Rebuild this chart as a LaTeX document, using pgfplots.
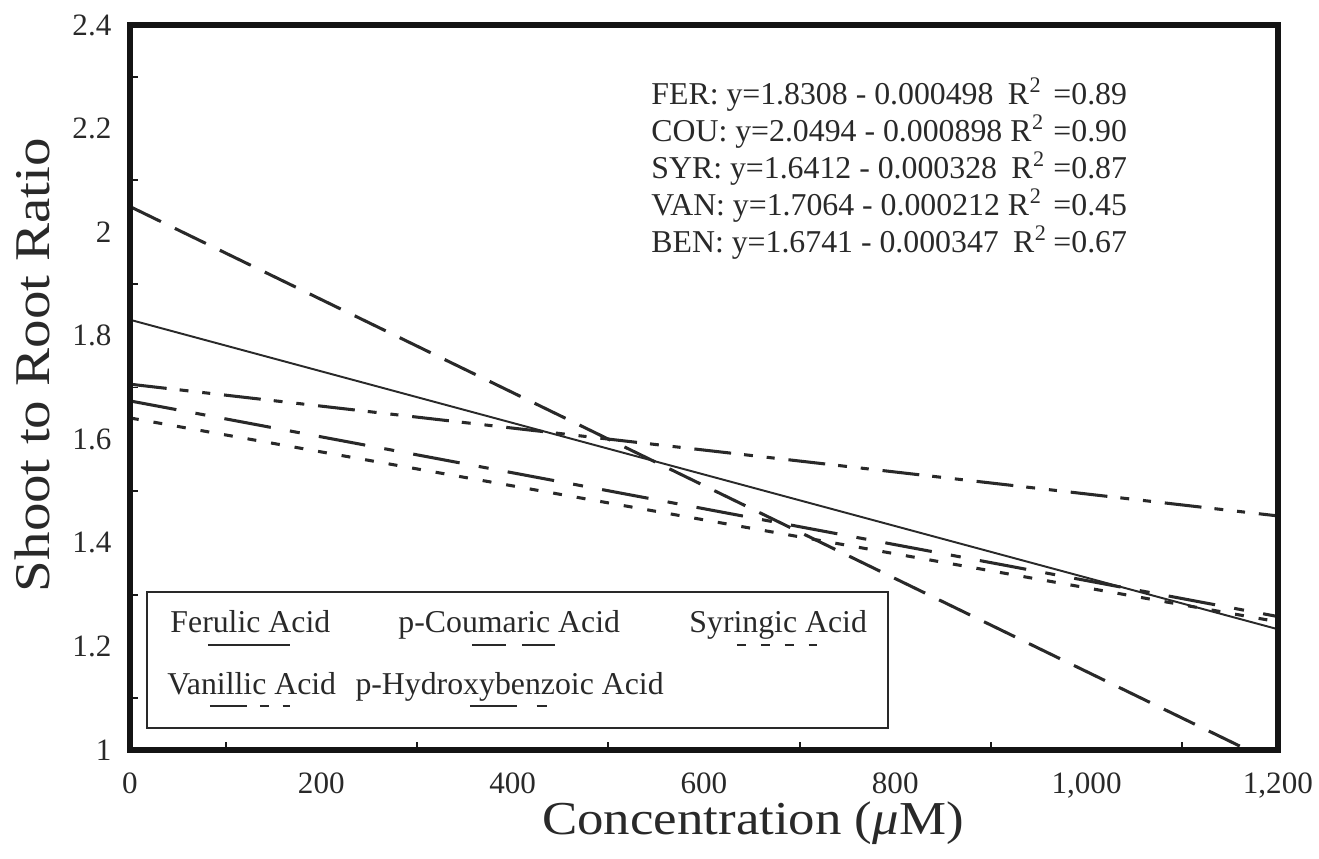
\documentclass[border=0pt]{standalone}
\usepackage{fontspec}
\setmainfont{Liberation Serif}
\usepackage{graphicx}
\usepackage{pgfplots}
\pgfplotsset{compat=1.18}
\definecolor{ink}{gray}{0.16}
\newcommand{\Rsq}{R\kern0.02em\raisebox{0.40em}{\fontsize{8}{8}\selectfont 2}}
\begin{document}
\begin{tikzpicture}
\useasboundingbox (-46.8pt,-39.25pt) rectangle (428.2pt,270.1pt);
\begin{axis}[
  at={(0,0)}, anchor=south west,
  scale only axis, width=413.4pt, height=261.1pt,
  xmin=0, xmax=1200, ymin=1, ymax=2.4,
  axis on top=true,
  axis line style={line width=2.2pt, black!92},
  xtick={0,200,400,600,800,1000,1200},
  ytick={1,1.2,1.4,1.6,1.8,2,2.2,2.4},
  minor xtick={100,300,500,700,900,1100},
  minor ytick={1.1,1.3,1.5,1.7,1.9,2.1,2.3},
  major tick length=0pt, minor tick length=2.8pt,
  tick align=inside, tick pos=left,
  every tick/.style={line width=0.7pt, black!90},
  /pgf/number format/.cd, 1000 sep={,}, assume math mode=true, /pgfplots/.cd,
  xticklabel style={font=\fontsize{11.2}{13}\selectfont, text=ink, inner sep=0pt, anchor=north, yshift=-7.9pt},
  yticklabel style={font=\fontsize{11.2}{13}\selectfont, text=ink, inner sep=0pt, anchor=east, xshift=-6.5pt},
  xlabel={\scalebox{1.12}[1]{Concentration ({\itshape μ}M)}},
  ylabel={\scalebox{1.14}[1]{Shoot to Root Ratio}},
  every axis x label/.style={at={(axis description cs:0.5427,-0.1159)}, anchor=base, inner sep=0pt, font=\fontsize{17}{19}\selectfont, text=ink},
  every axis y label/.style={at={(axis description cs:-0.0697,0.531)}, anchor=base, inner sep=0pt, rotate=90, font=\fontsize{18}{20}\selectfont, text=ink},
]
% FER
\addplot[ink, line width=0.7pt] coordinates {(0,1.8308) (1200,1.2332)};
% COU
\addplot[ink, line width=1.1pt, dash pattern=on 12.4pt off 5.6pt] coordinates {(0,2.0494) (1200,0.9718)};
% SYR
\addplot[ink, line width=1.1pt, dash pattern=on 3.2pt off 5.4pt] coordinates {(0,1.6412) (1200,1.2476)};
% VAN
\addplot[ink, line width=1.1pt, dash pattern=on 13.3pt off 4.7pt on 3.2pt off 5pt on 2.9pt off 5pt] coordinates {(0,1.7064) (1200,1.4520)};
% BEN
\addplot[ink, line width=1.1pt, dash pattern=on 17pt off 7pt on 3.6pt off 7pt] coordinates {(0,1.6741) (1200,1.2577)};

% equations
\begin{scope}[every node/.style={inner sep=0pt, text=ink, font=\fontsize{11.45}{13}\selectfont}]
\node[anchor=base west] at (axis description cs:0.4538,0.8897) {FER: y=1.8308 - 0.000498\hspace{0.45em}\Rsq};
\node[anchor=base west] at (axis description cs:0.4538,0.8387) {COU: y=2.0494 - 0.000898\hspace{0.25em}\Rsq};
\node[anchor=base west] at (axis description cs:0.4538,0.7876) {SYR: y=1.6412 - 0.000328\hspace{0.45em}\Rsq};
\node[anchor=base west] at (axis description cs:0.4538,0.7366) {VAN: y=1.7064 - 0.000212\hspace{0.25em}\Rsq};
\node[anchor=base west] at (axis description cs:0.4538,0.6856) {BEN: y=1.6741 - 0.000347\hspace{0.45em}\Rsq};
\node[anchor=base west] at (axis description cs:0.8040,0.8897) {=0.89};
\node[anchor=base west] at (axis description cs:0.8040,0.8387) {=0.90};
\node[anchor=base west] at (axis description cs:0.8040,0.7876) {=0.87};
\node[anchor=base west] at (axis description cs:0.8040,0.7366) {=0.45};
\node[anchor=base west] at (axis description cs:0.8040,0.6856) {=0.67};

% legend
\draw[ink, line width=0.8pt] (axis description cs:0.0148,0.0303) rectangle (axis description cs:0.6603,0.2179);
\node[anchor=base west] at (axis description cs:0.0348,0.1614) {Ferulic Acid};
\node[anchor=base west] at (axis description cs:0.2334,0.1614) {p-Coumaric Acid};
\node[anchor=base west] at (axis description cs:0.4869,0.1614) {Syringic Acid};
\node[anchor=base west] at (axis description cs:0.0322,0.0759) {Vanillic Acid};
\node[anchor=base west] at (axis description cs:0.1960,0.0759) {p-Hydroxybenzoic Acid};
\end{scope}
\draw[ink, line width=0.7pt] (axis description cs:0.0679,0.1448) -- (axis description cs:0.1394,0.1448);
\draw[ink, line width=1.0pt, dash pattern=on 12.4pt off 5.6pt] (axis description cs:0.2979,0.1448) -- (axis description cs:0.3702,0.1448);
\draw[ink, line width=1.0pt, dash pattern=on 3.2pt off 5.4pt] (axis description cs:0.5287,0.1448) -- (axis description cs:0.6028,0.1448);
\draw[ink, line width=1.0pt, dash pattern=on 13.3pt off 4.7pt on 3.2pt off 5pt on 2.9pt off 5pt] (axis description cs:0.0696,0.0607) -- (axis description cs:0.1394,0.0607);
\draw[ink, line width=1.0pt, dash pattern=on 17pt off 7pt on 3.6pt off 7pt] (axis description cs:0.2962,0.0607) -- (axis description cs:0.3685,0.0607);
\end{axis}
\end{tikzpicture}
\end{document}
